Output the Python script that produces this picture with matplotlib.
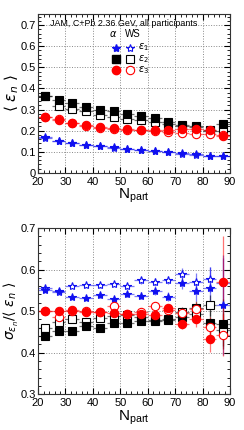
import numpy as np
import matplotlib
matplotlib.use('Agg')
import matplotlib.pyplot as plt
from matplotlib.ticker import MultipleLocator

plt.rcParams['font.family'] = ['Liberation Sans', 'DejaVu Sans']
plt.rcParams['mathtext.fontset'] = 'dejavusans'

# Npart bin centres
npart = [22.5, 27.5, 32.5, 37.5, 42.5, 47.5, 52.5, 57.5, 62.5, 67.5, 72.5, 77.5, 82.5, 87.5]

# <eps_n> (top panel), alpha-cluster and Woods-Saxon
eps1_alpha = [0.168, 0.151, 0.142, 0.134, 0.127, 0.121, 0.115, 0.109, 0.104, 0.099, 0.094, 0.090, 0.082, 0.079]
eps1_ws = [0.166, 0.150, 0.141, 0.132, 0.126, 0.120, 0.114, 0.110, 0.103, 0.098, 0.090, 0.086, 0.079, 0.079]
eps2_alpha = [0.365, 0.343, 0.329, 0.310, 0.300, 0.291, 0.280, 0.271, 0.260, 0.242, 0.228, 0.217, 0.203, 0.231]
eps2_ws = [0.362, 0.319, 0.304, 0.291, 0.274, 0.263, 0.253, 0.249, 0.242, 0.233, 0.222, 0.223, 0.200, 0.200]
eps3_alpha = [0.267, 0.249, 0.234, 0.227, 0.217, 0.212, 0.208, 0.205, 0.203, 0.201, 0.208, 0.206, 0.201, 0.173]
eps3_ws = [0.264, 0.255, 0.236, 0.223, 0.214, 0.208, 0.205, 0.201, 0.197, 0.193, 0.189, 0.184, 0.184, 0.178]

# sigma/<eps_n> (bottom panel)
r1_alpha = [0.550, 0.548, 0.533, 0.532, 0.538, 0.530, 0.541, 0.537, 0.548, 0.535, 0.568, 0.549, 0.555, 0.515]
r1_alpha_err = [0.005, 0.005, 0.005, 0.005, 0.006, 0.006, 0.007, 0.008, 0.009, 0.010, 0.015, 0.025, 0.05, 0.12]
r1_ws = [0.556, 0.546, 0.561, 0.562, 0.562, 0.566, 0.560, 0.574, 0.570, 0.574, 0.590, 0.571, 0.576, 0.568]
r1_ws_err = [0.005, 0.005, 0.005, 0.005, 0.006, 0.006, 0.007, 0.008, 0.009, 0.010, 0.014, 0.02, 0.03, 0.06]
r2_alpha = [0.440, 0.451, 0.452, 0.463, 0.459, 0.471, 0.471, 0.476, 0.479, 0.478, 0.485, 0.507, 0.472, 0.468]
r2_alpha_err = [0.004, 0.004, 0.004, 0.005, 0.005, 0.005, 0.006, 0.007, 0.008, 0.009, 0.012, 0.018, 0.03, 0.06]
r2_ws = [0.459, 0.474, 0.480, 0.474, 0.484, 0.488, 0.490, 0.487, 0.476, 0.480, 0.497, 0.492, 0.514, 0.455]
r2_ws_err = [0.004, 0.004, 0.004, 0.005, 0.005, 0.005, 0.006, 0.007, 0.008, 0.009, 0.012, 0.016, 0.025, 0.04]
r3_alpha = [0.500, 0.500, 0.502, 0.498, 0.499, 0.496, 0.494, 0.493, 0.490, 0.507, 0.470, 0.481, 0.432, 0.571]
r3_alpha_err = [0.004, 0.004, 0.004, 0.005, 0.005, 0.005, 0.006, 0.007, 0.008, 0.009, 0.012, 0.02, 0.03, 0.11]
r3_ws = [0.500, 0.486, 0.500, 0.500, 0.498, 0.512, 0.494, 0.498, 0.512, 0.502, 0.495, 0.505, 0.462, 0.442]
r3_ws_err = [0.004, 0.004, 0.004, 0.005, 0.005, 0.005, 0.006, 0.007, 0.008, 0.009, 0.012, 0.016, 0.025, 0.05]

blue = '#1010f0'
red = '#ff0000'
black = '#000000'

fig = plt.figure(figsize=(2.44, 4.30), dpi=100)
ax1 = fig.add_axes([0.156, 0.598, 0.787, 0.369])
ax2 = fig.add_axes([0.156, 0.083, 0.787, 0.387])


def draw(ax, y, c, marker, filled, yerr=None, ms=6.0):
    mfc = c if filled else 'white'
    ax.errorbar(npart, y, xerr=2.5, yerr=yerr, fmt='none', ecolor=c, elinewidth=0.9,
                alpha=0.55, zorder=2)
    ax.plot(npart, y, linestyle='none', marker=marker, ms=ms, mfc=mfc, mec=c,
            mew=0.8, zorder=3)


def style(ax, ylim, ymaj):
    ax.set_xlim(20, 90)
    ax.set_ylim(*ylim)
    ax.xaxis.set_major_locator(MultipleLocator(10))
    ax.xaxis.set_minor_locator(MultipleLocator(2))
    ax.yaxis.set_major_locator(MultipleLocator(ymaj))
    ax.yaxis.set_minor_locator(MultipleLocator(ymaj / 5))
    ax.grid(True, which='major', linestyle=':', color='#888888', linewidth=0.7)
    ax.tick_params(which='both', direction='in', top=True, right=True, labelsize=8, pad=1.5)
    ax.tick_params(axis='x', which='both', pad=3)
    ax.tick_params(which='major', length=4)
    ax.tick_params(which='minor', length=2)
    for s in ax.spines.values():
        s.set_linewidth(0.8)
        s.set_color('#333333')
    ax.set_xlabel(r'$\mathregular{N_{part}}$', fontsize=11, labelpad=0)
    ax.yaxis.set_label_coords(-0.09, 0.5)


# top panel
draw(ax1, eps1_ws, blue, '*', False, ms=6)
draw(ax1, eps1_alpha, blue, '*', True, ms=6)
draw(ax1, eps2_ws, black, 's', False)
draw(ax1, eps2_alpha, black, 's', True)
draw(ax1, eps3_ws, red, 'o', False)
draw(ax1, eps3_alpha, red, 'o', True)
style(ax1, (0, 0.752), 0.1)
ax1.set_yticks(np.arange(0, 0.71, 0.1))
ax1.set_yticklabels(['0', '0.1', '0.2', '0.3', '0.4', '0.5', '0.6', '0.7'])
ax1.set_ylabel(r'$\langle\ \epsilon_n\ \rangle$', fontsize=11)
ax1.text(0.445, 0.94, 'JAM, C+Pb 2.36 GeV, all participants', transform=ax1.transAxes,
         ha='center', va='center', fontsize=6.4)

# legend by hand
ax1.text(0.39, 0.874, r'$\alpha$', transform=ax1.transAxes, ha='center', va='center', fontsize=7)
ax1.text(0.495, 0.874, 'WS', transform=ax1.transAxes, ha='center', va='center', fontsize=7)
rows = [(blue, '*', r'$\epsilon_1$', 6), (black, 's', r'$\epsilon_2$', 6), (red, 'o', r'$\epsilon_3$', 6)]
for i, (c, m, lab, ms) in enumerate(rows):
    yy = 0.79 - i * 0.071
    ax1.plot([0.406], [yy], transform=ax1.transAxes, marker=m, ms=ms, mfc=c, mec=c,
             linestyle='none', clip_on=False)
    ax1.plot([0.48], [yy], transform=ax1.transAxes, marker=m, ms=ms, mfc='white', mec=c,
             mew=0.8, linestyle='none', clip_on=False)
    ax1.text(0.52, yy, lab, transform=ax1.transAxes, ha='left', va='center', fontsize=7)

# bottom panel
draw(ax2, r1_ws, blue, '*', False, r1_ws_err, ms=6)
draw(ax2, r1_alpha, blue, '*', True, r1_alpha_err, ms=6)
draw(ax2, r2_ws, black, 's', False, r2_ws_err)
draw(ax2, r2_alpha, black, 's', True, r2_alpha_err)
draw(ax2, r3_ws, red, 'o', False, r3_ws_err)
draw(ax2, r3_alpha, red, 'o', True, r3_alpha_err)
style(ax2, (0.3, 0.7), 0.1)
ax2.set_ylabel(r'$\sigma_{\epsilon_n}/\langle\ \epsilon_n\ \rangle$', fontsize=10)

fig.savefig('out.png', dpi=100)
